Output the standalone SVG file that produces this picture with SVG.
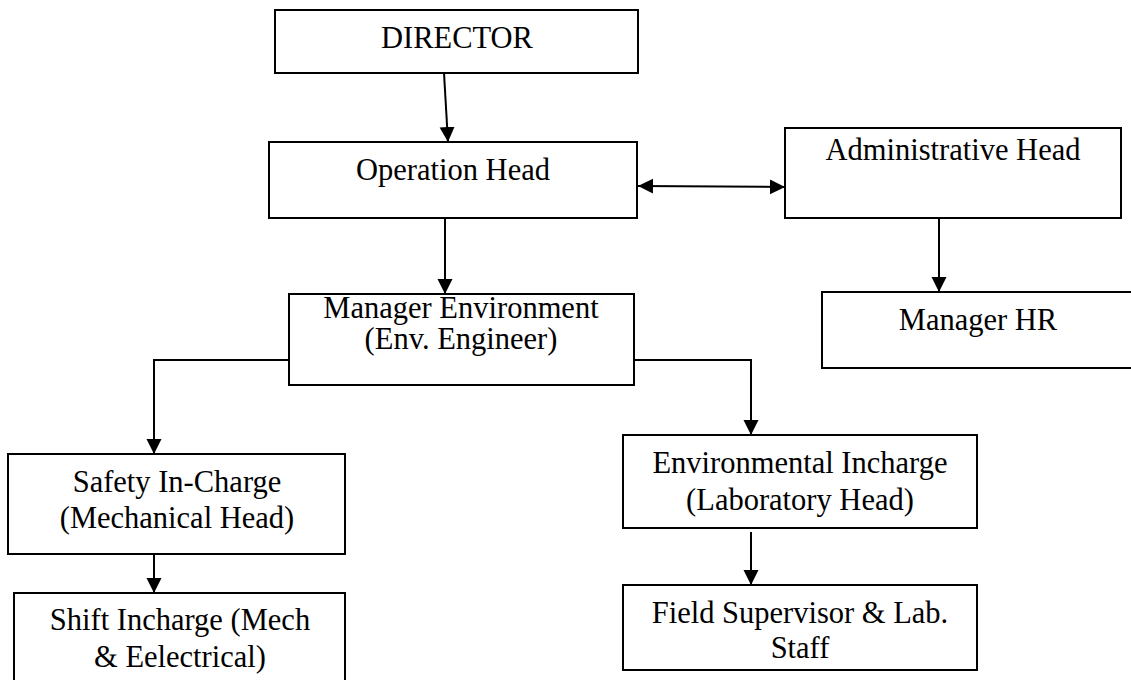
<svg xmlns="http://www.w3.org/2000/svg" width="1131" height="680" viewBox="0 0 1131 680">
<style>
.box{fill:#fff;stroke:#000;stroke-width:2}
.t{font-family:"Liberation Serif","Times New Roman",serif;font-size:30.5px;fill:#000;text-anchor:middle}
.c{fill:none;stroke:#000;stroke-width:2}
</style>
<defs>
<marker id="ah" markerUnits="userSpaceOnUse" markerWidth="16" markerHeight="16" refX="15" refY="7.5" orient="auto-start-reverse">
<path d="M0,0 L15,7.5 L0,15 z" fill="#000"/>
</marker>
</defs>
<rect width="1131" height="680" fill="#fff"/>
<g id="connectors">
<line class="c" x1="444" y1="73" x2="448" y2="142" marker-end="url(#ah)"/>
<line class="c" x1="445" y1="218" x2="445" y2="294" marker-end="url(#ah)"/>
<line class="c" x1="638" y1="186" x2="785" y2="187" marker-start="url(#ah)" marker-end="url(#ah)"/>
<line class="c" x1="939" y1="218" x2="939" y2="292" marker-end="url(#ah)"/>
<polyline class="c" points="289,360 154,360 154,454" marker-end="url(#ah)"/>
<polyline class="c" points="634,360 751,360 751,435" marker-end="url(#ah)"/>
<line class="c" x1="154" y1="553" x2="154" y2="593" marker-end="url(#ah)"/>
<line class="c" x1="751" y1="532" x2="751" y2="585" marker-end="url(#ah)"/>
</g>
<g id="director">
<rect class="box" x="275" y="10" width="363" height="63"/>
<text class="t" x="457" y="48">DIRECTOR</text>
</g>
<g id="operation-head">
<rect class="box" x="269" y="142" width="368" height="76"/>
<text class="t" x="453" y="180">Operation Head</text>
</g>
<g id="administrative-head">
<rect class="box" x="785" y="128" width="336" height="90"/>
<text class="t" x="953" y="160">Administrative Head</text>
</g>
<g id="manager-hr">
<rect class="box" x="822" y="292" width="312" height="76"/>
<text class="t" x="978" y="330">Manager HR</text>
</g>
<g id="manager-environment">
<rect class="box" x="289" y="294" width="345" height="91"/>
<text class="t" x="461" y="318">Manager Environment</text>
<text class="t" x="461" y="349">(Env. Engineer)</text>
</g>
<g id="safety-incharge">
<rect class="box" x="8" y="454" width="337" height="100"/>
<text class="t" x="177" y="492">Safety In-Charge</text>
<text class="t" x="177" y="528">(Mechanical Head)</text>
</g>
<g id="shift-incharge">
<rect class="box" x="14" y="593" width="331" height="100"/>
<text class="t" x="180" y="630">Shift Incharge (Mech</text>
<text class="t" x="180" y="667">&amp; Eelectrical)</text>
</g>
<g id="environmental-incharge">
<rect class="box" x="623" y="435" width="354" height="93"/>
<text class="t" x="800" y="473">Environmental Incharge</text>
<text class="t" x="800" y="510">(Laboratory Head)</text>
</g>
<g id="field-supervisor">
<rect class="box" x="623" y="585" width="354" height="85"/>
<text class="t" x="800" y="623">Field Supervisor &amp; Lab.</text>
<text class="t" x="800" y="658">Staff</text>
</g>
</svg>
